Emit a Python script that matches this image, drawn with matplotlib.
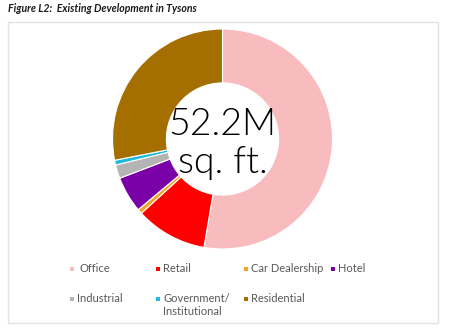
import matplotlib
matplotlib.use("Agg")
import matplotlib.pyplot as plt
from matplotlib.patches import Rectangle

categories = ["Office", "Retail", "Car Dealership", "Hotel", "Industrial",
              "Government/\nInstitutional", "Residential"]
shares = [52.7, 10.5, 0.7, 5.3, 2.0, 0.7, 28.1]
colors = ["#F9BCBE", "#FF0000", "#F4A528", "#7A00A8", "#B4B4B4", "#1EB9DC", "#A56F00"]
title = "Figure L2:  Existing Development in Tysons"

W, H = 450, 334
fig = plt.figure(figsize=(W / 100, H / 100), dpi=100)
fig.patch.set_facecolor("white")

def px(x, y):
    return x / W, 1 - y / H

# frame
fx0, fy0, fx1, fy1 = 8, 22, 438, 323
fig.patches.append(Rectangle(px(fx0, fy1), (fx1 - fx0) / W, (fy1 - fy0) / H,
                             transform=fig.transFigure, facecolor="none",
                             edgecolor="#E2E2E2", lw=1.0, zorder=0))

fig.text(*px(8, 9), title, fontsize=7.6, fontweight="bold", fontstyle="italic",
         family=["Lato", "DejaVu Sans"], color="#1a1a1a", va="center", ha="left")

cx, cy, r = 222.5, 139, 110
ax = fig.add_axes([(cx - r) / W, (H - cy - r) / H, 2 * r / W, 2 * r / H])
ax.set_zorder(2)
ax.pie(shares, colors=colors, startangle=90, counterclock=False,
       wedgeprops=dict(width=0.49, edgecolor="white", linewidth=0.8))
ax.set_xlim(-1, 1)
ax.set_ylim(-1, 1)
ax.set_aspect("equal")
ax.axis("off")

ax.text(0, 0.13, "52.2M", ha="center", va="center", fontsize=27,
        family=["Lato", "DejaVu Sans"], fontweight=300, color="#000000")
ax.text(0, -0.22, "sq. ft.", ha="center", va="center", fontsize=27,
        family=["Lato", "DejaVu Sans"], fontweight=300, color="#000000")

# legend (manual grid, 4 columns)
col_x = [72, 158, 246, 333]
row_y = [269, 299]
for i, (lab, col) in enumerate(zip(categories, colors)):
    rr, cc = divmod(i, 4)
    x, y = col_x[cc], row_y[rr]
    s = 4.5
    fig.patches.append(Rectangle(px(x - s / 2, y + s / 2), s / W, s / H,
                                 transform=fig.transFigure, facecolor=col,
                                 edgecolor="none"))
    if "\n" in lab:
        fig.text(*px(x + 5, y - 6), lab, fontsize=8, family=["Lato", "DejaVu Sans"],
                 color="#595959", va="top", ha="left", linespacing=1.25)
    else:
        fig.text(*px(x + 5 + (2 if i == 0 else 0), y), lab, fontsize=8,
                 family=["Lato", "DejaVu Sans"], color="#595959",
                 va="center", ha="left")

fig.savefig("out.png", dpi=100, facecolor="white")
